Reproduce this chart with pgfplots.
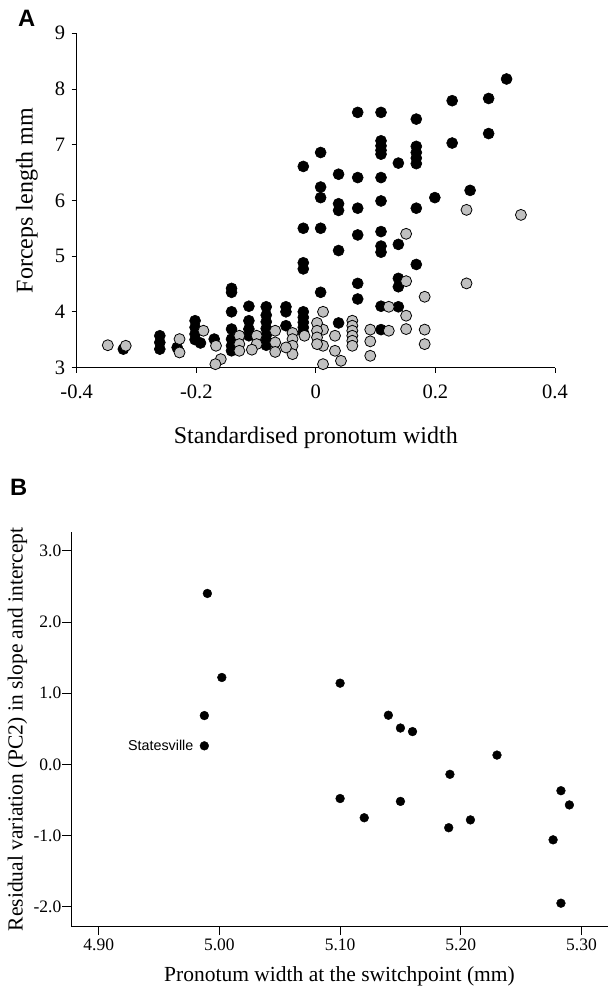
\documentclass[border=0pt]{standalone}
\usepackage{fontspec}
\setmainfont{Liberation Serif}
\newfontfamily\arial{Liberation Sans}
\usepackage{pgfplots}
\usepackage{pgfplotstable}
\pgfplotsset{compat=1.18}
\definecolor{dotgrey}{HTML}{C0C0C0}

% panel A: black = one morph, grey = the other
\pgfplotstableread{
x y
0.319 8.18
0.228 7.79
0.289 7.83
0.289 7.20
0.228 7.03
0.070 7.58
0.109 7.58
0.168 7.46
0.109 7.07
0.109 6.98
0.109 6.90
0.109 6.83
0.168 6.97
0.168 6.86
0.168 6.76
0.168 6.66
0.138 6.67
0.008 6.86
-0.021 6.61
0.038 6.47
0.070 6.41
0.109 6.41
0.008 6.24
0.008 6.05
0.038 5.94
0.038 5.82
0.070 5.86
0.109 5.99
0.199 6.05
0.258 6.18
0.168 5.86
-0.021 5.50
0.008 5.50
0.070 5.38
0.109 5.44
0.038 5.10
0.109 5.18
0.109 5.07
0.138 5.21
-0.021 4.88
-0.021 4.77
0.168 4.85
0.008 4.35
0.070 4.51
0.070 4.23
0.138 4.60
0.138 4.45
0.109 4.10
0.138 4.09
0.109 3.68
0.038 3.80
-0.141 4.42
-0.141 4.35
-0.141 4.00
-0.112 4.10
-0.083 4.09
-0.083 3.94
-0.083 3.82
-0.083 3.70
-0.083 3.58
-0.083 3.48
-0.083 3.40
-0.050 4.09
-0.050 4.00
-0.050 3.75
-0.021 4.00
-0.021 3.90
-0.021 3.81
-0.021 3.72
-0.021 3.63
-0.112 3.84
-0.112 3.69
-0.112 3.57
-0.141 3.69
-0.141 3.51
-0.141 3.39
-0.141 3.30
-0.170 3.51
-0.202 3.84
-0.202 3.72
-0.202 3.60
-0.202 3.50
-0.193 3.44
-0.232 3.36
-0.261 3.57
-0.261 3.45
-0.261 3.33
-0.322 3.33
}\blackdata

\pgfplotstableread{
x y
0.343 5.74
0.252 5.83
0.151 5.40
0.151 4.55
0.252 4.51
0.182 4.27
0.122 4.09
0.151 3.93
0.151 3.69
0.182 3.68
0.182 3.42
0.122 3.66
0.091 3.68
0.091 3.47
0.091 3.21
0.061 3.84
0.061 3.75
0.061 3.66
0.061 3.57
0.061 3.48
0.061 3.39
0.032 3.57
0.032 3.30
0.042 3.12
0.012 3.06
0.012 4.00
0.012 3.68
0.012 3.39
0.002 3.80
0.002 3.66
0.002 3.54
0.002 3.42
-0.019 3.57
-0.039 3.62
-0.039 3.51
-0.039 3.39
-0.039 3.24
-0.050 3.36
-0.068 3.66
-0.068 3.45
-0.068 3.28
-0.099 3.57
-0.099 3.42
-0.107 3.32
-0.128 3.57
-0.128 3.42
-0.128 3.30
-0.159 3.15
-0.168 3.06
-0.167 3.39
-0.188 3.66
-0.228 3.51
-0.228 3.27
-0.318 3.39
-0.348 3.40
}\greydata

% panel B
\pgfplotstableread{
x y
4.990 2.40
5.002 1.22
4.9875 0.685
4.9875 0.26
5.100 1.14
5.140 0.69
5.150 0.51
5.160 0.46
5.230 0.13
5.191 -0.14
5.100 -0.48
5.120 -0.75
5.150 -0.52
5.190 -0.89
5.208 -0.78
5.283 -0.37
5.290 -0.57
5.2765 -1.06
5.283 -1.95
}\pcdata

\begin{document}
\begin{tikzpicture}[x=1pt,y=1pt]
\useasboundingbox (0,0) rectangle (608,-987);

\node[anchor=base west, inner sep=0, font=\arial\bfseries\fontsize{23.7}{26}\selectfont] at (18,-27) {A};
\node[anchor=base west, inner sep=0, font=\arial\bfseries\fontsize{23.7}{26}\selectfont] at (10,-495) {B};

\begin{axis}[
    at={(76.7pt,-367.5pt)}, anchor=south west,
    scale only axis, width=478.3pt, height=334.2pt,
    xmin=-0.4, xmax=0.4, ymin=3, ymax=9,
    axis x line=bottom, axis y line=left,
    axis line style={-, line width=0.8pt},
    tick align=outside, major tick length=5pt,
    tick style={line width=0.8pt, black},
    xtick={-0.4,-0.2,0,0.2,0.4},
    xticklabels={-0.4,-0.2,0,0.2,0.4},
    ytick={3,4,5,6,7,8,9},
    yticklabels={3,4,5,6,7,8,9},
    ticklabel style={font=\fontsize{20.5}{24}\selectfont},
    xticklabel style={yshift=-9pt},
    yticklabel style={xshift=-3pt},
    xlabel={Standardised pronotum width},
    ylabel={Forceps length mm},
    label style={font=\fontsize{24}{28}\selectfont},
    xlabel style={at={(axis description cs:0.5,-0.2265)}, anchor=base},
    ylabel style={at={(axis description cs:-0.104,0.5)}, anchor=center},
    clip=false,
]
\addplot[only marks, mark=*, mark size=5.5pt, mark options={fill=black, draw=black, line width=0.6pt}] table {\blackdata};
\addplot[only marks, mark=*, mark size=5.5pt, mark options={fill=dotgrey, draw=black, line width=0.8pt}] table {\greydata};
\end{axis}

\begin{axis}[
    at={(71pt,-926.7pt)}, anchor=south west,
    scale only axis, width=537pt, height=395pt,
    xmin=4.877, xmax=5.322, ymin=-2.28, ymax=3.267,
    axis x line=bottom, axis y line=left,
    axis line style={-, line width=0.8pt},
    tick align=outside, major tick length=8.5pt,
    tick style={line width=0.8pt, black},
    xtick={4.9,5.0,5.1,5.2,5.3},
    xticklabels={4.90,5.00,5.10,5.20,5.30},
    ytick={-2,-1,0,1,2,3},
    yticklabels={-2.0,-1.0,0.0,1.0,2.0,3.0},
    ticklabel style={font=\fontsize{17.5}{20}\selectfont},
    yticklabel style={inner sep=1pt},
    xlabel={Pronotum width at the switchpoint (mm)},
    ylabel={Residual variation (PC2) in slope and intercept},
    label style={font=\fontsize{21.5}{25}\selectfont},
    xlabel style={at={(axis description cs:0.5,-0.139)}, anchor=base},
    ylabel style={at={(axis description cs:-0.0996,0.5)}, anchor=center},
    clip=false,
]
\addplot[only marks, mark=*, mark size=4.4pt, mark options={fill=black, draw=black}] table {\pcdata};
\node[anchor=east, xshift=-7.5pt, font=\arial\fontsize{14.3}{16}\selectfont] at (axis cs:4.9875,0.26) {Statesville};
\end{axis}
\end{tikzpicture}
\end{document}
